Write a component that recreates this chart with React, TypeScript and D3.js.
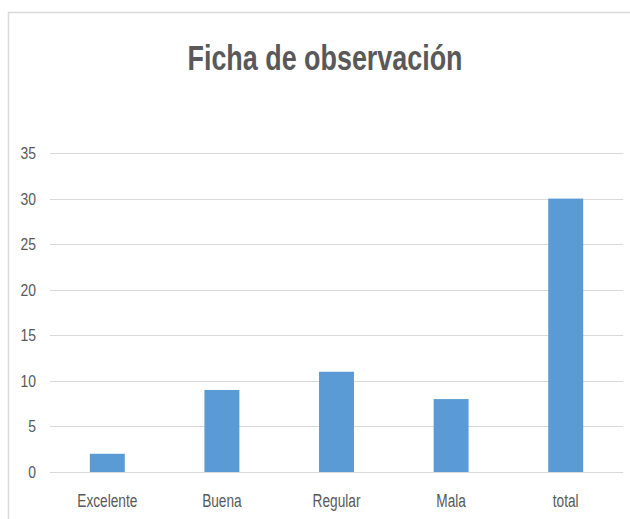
import React from "react";
import * as d3 from "d3";

const categories = ["Excelente", "Buena", "Regular", "Mala", "total"];
const values = [2, 9, 11, 8, 30];
const yTicks = [0, 5, 10, 15, 20, 25, 30, 35];
const title = "Ficha de observación";

const W = 630;
const H = 519;
const FONT = "'Liberation Sans Narrow', 'Arial Narrow', 'Liberation Sans', sans-serif";

export default function App() {
  const x = d3
    .scaleBand<string>()
    .domain(categories)
    .range([50, 623])
    .paddingInner(0.695)
    .paddingOuter(0.3475);
  const y = d3.scaleLinear().domain([0, 35]).range([472, 153]);

  return (
    <div style={{ position: "absolute", left: 0, top: 0 }}>
      <svg width={W} height={H} style={{ display: "block", background: "#fff" }}>
        <rect x={8.5} y={12.5} width={W + 20} height={H + 20} fill="#fff" stroke="#d9d9d9" strokeWidth={1.5} />
        <text
          x={325}
          y={70}
          textAnchor="middle"
          fontFamily={FONT}
          fontWeight="bold"
          fontSize={35}
          fill="#595959"
          textLength={275}
          lengthAdjust="spacingAndGlyphs"
        >
          {title}
        </text>
        {yTicks.map((t) => (
          <g key={t}>
            <line x1={50} x2={623} y1={Math.round(y(t)) + 0.5} y2={Math.round(y(t)) + 0.5} stroke="#d9d9d9" strokeWidth={1.2} />
            <text
              transform={`translate(36,${y(t)}) scale(0.82,1)`}
              dy="0.35em"
              textAnchor="end"
              fontFamily={FONT}
              fontSize={17}
              fill="#595959"
            >
              {t}
            </text>
          </g>
        ))}
        {categories.map((c, i) => (
          <rect
            key={c}
            x={x(c)}
            y={y(values[i])}
            width={x.bandwidth()}
            height={y(0) - y(values[i])}
            fill="#5b9bd5"
          />
        ))}
        {categories.map((c) => (
          <text
            key={c}
            transform={`translate(${(x(c) as number) + x.bandwidth() / 2},507) scale(0.72,1)`}
            textAnchor="middle"
            fontFamily={FONT}
            fontSize={19}
            fill="#595959"
          >
            {c}
          </text>
        ))}
      </svg>
    </div>
  );
}
